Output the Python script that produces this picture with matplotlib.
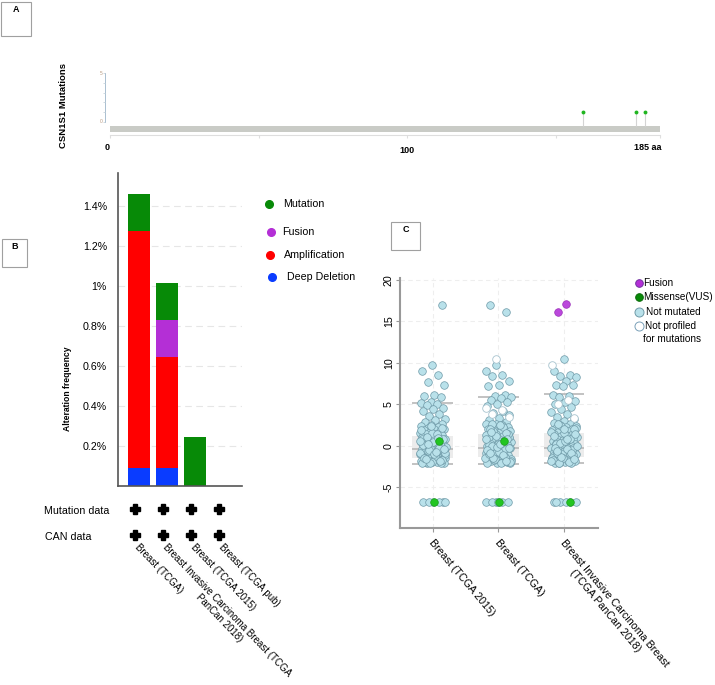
import matplotlib
matplotlib.use("Agg")
import matplotlib.pyplot as plt
import matplotlib.patches as patches
from matplotlib.lines import Line2D
import numpy as np

plt.rcParams['font.family'] = ['Liberation Sans', 'DejaVu Sans']

W, H = 715, 685

# ---- panel A: lollipop of CSN1S1 mutations
protein_length = 185
mutation_positions = [159, 177, 180]
mutation_counts = [1, 1, 1]
ruler_ticks = [0, 50, 100, 150, 185]

# ---- panel B: alteration frequency (%) per study
studies_b = ["Breast (TCGA)",
             "Breast Invasive Carcinoma Breast (TCGA\nPanCan 2018)",
             "Breast (TCGA 2015)",
             "Breast (TCGA pub)"]
deep_deletion = [0.09, 0.09, 0.0, 0.0]
amplification = [1.185, 0.555, 0.0, 0.0]
fusion = [0.0, 0.185, 0.0, 0.0]
mutation = [0.185, 0.185, 0.245, 0.0]
freq_ticks = [0.2, 0.4, 0.6, 0.8, 1.0, 1.2, 1.4]

# ---- panel C: expression per study
studies_c = ["Breast (TCGA 2015)", "Breast (TCGA)",
             "Breast Invasive Carcinoma Breast\n(TCGA PanCan 2018)"]
not_mutated = [
    [17.0, 9.8, 9.0, 8.6, 7.7, 7.4, 6.1, 6.0, 5.9, 5.3, 5.2, 5.1, 4.9, 4.6,
     4.4, 4.2, 3.9, 3.6, 3.3, 3.1, 2.9, 2.7, 2.5, 2.4, 2.3, 2.2, 2.1, 2.0,
     1.9, 1.8, 1.7, 1.6, 1.5, 1.4, 1.3, 1.2, 1.1, 1.0, 0.9, 0.85, 0.8, 0.7,
     0.6, 0.55, 0.5, 0.4, 0.3, 0.25, 0.2, 0.1, 0.0, -0.05, -0.1, -0.2, -0.25,
     -0.3, -0.35, -0.4, -0.5, -0.55, -0.6, -0.7, -0.75, -0.8, -0.9, -1.0,
     -1.05, -1.1, -1.2, -1.25, -1.3, -1.4, -1.45, -1.5, -1.6, -1.65, -1.7,
     -1.8, -1.85, -1.9, -2.0, -2.1, 1.2, 0.7, 0.2, -0.3, -0.8, -1.3, -1.8,
     2.2, 1.6, 0.9, 0.4, -0.6, -1.1, -1.6, -1.9, -2.0,
     2.4, 1.9, 1.5, 1.1, 0.8, 0.5, 0.1, -0.2, -0.5, -0.9, -1.2, -1.5, -1.7,
     -1.9, -2.05, 1.0, 0.3, -0.4, -1.0, -1.4, -1.75, -2.0, 0.6, -0.7, -1.55,
     -6.7, -6.7, -6.7, -6.7, -6.7, -6.7],
    [17.0, 16.1, 9.8, 9.0, 8.5, 8.4, 7.8, 7.4, 7.2, 6.1, 6.0, 5.9, 5.8, 5.5,
     5.3, 5.0, 4.8, 4.2, 4.0, 3.7, 3.4, 3.1, 2.9, 2.7, 2.6, 2.5, 2.4, 2.3,
     2.2, 2.1, 2.0, 1.9, 1.8, 1.7, 1.6, 1.5, 1.4, 1.3, 1.2, 1.1, 1.0, 0.9,
     0.8, 0.7, 0.6, 0.5, 0.4, 0.3, 0.2, 0.1, 0.0, -0.1, -0.2, -0.3, -0.4,
     -0.5, -0.6, -0.7, -0.8, -0.9, -1.0, -1.1, -1.2, -1.3, -1.4, -1.5, -1.6,
     -1.7, -1.8, -1.9, -2.0, -2.1, 2.3, 1.8, 1.1, 0.6, 0.1, -0.4, -0.9, -1.4,
     -1.9, 2.6, 1.4, 0.3, -0.6, -1.2, -1.7, -2.0,
     2.5, 2.0, 1.6, 1.2, 0.9, 0.4, 0.0, -0.3, -0.7, -1.0, -1.3, -1.6, -1.8,
     -2.05, 1.7, 0.8, -0.1, -0.5, -1.1, -1.5, -1.95, 0.2, -0.8, -1.75,
     -6.7, -6.7, -6.7, -6.7, -6.7, -6.7],
    [10.5, 9.0, 8.6, 8.4, 8.3, 7.8, 7.4, 7.3, 7.2, 6.1, 6.0, 5.9, 5.4, 5.3,
     5.0, 4.7, 4.4, 4.1, 3.8, 3.5, 3.2, 3.0, 2.8, 2.6, 2.5, 2.4, 2.3, 2.2,
     2.1, 2.0, 1.9, 1.8, 1.7, 1.6, 1.5, 1.4, 1.3, 1.2, 1.1, 1.0, 0.9, 0.8,
     0.7, 0.6, 0.5, 0.4, 0.3, 0.2, 0.1, 0.0, -0.1, -0.2, -0.3, -0.4, -0.5,
     -0.6, -0.7, -0.8, -0.9, -1.0, -1.1, -1.2, -1.3, -1.4, -1.5, -1.6, -1.7,
     -1.8, -1.9, -2.0, -2.1, 2.4, 1.7, 1.0, 0.5, -0.2, -0.7, -1.2, -1.6, -2.0,
     2.2, 1.3, 0.2, -0.5, -1.0, -1.5, -1.8,
     2.6, 2.1, 1.6, 1.2, 0.8, 0.4, 0.0, -0.4, -0.8, -1.1, -1.4, -1.7, -1.9,
     -2.05, 1.5, 0.6, -0.3, -0.9, -1.3, -1.85, 0.9, -0.6, -1.55, 2.0,
     -6.7, -6.7, -6.7, -6.7, -6.7, -6.7],
]
not_profiled = [[], [10.5, 4.6, 4.3, 3.9, 3.5], [9.8, 5.6, 5.1, 3.4]]
missense = [[0.65, -6.7], [0.65, -6.7], [-6.7]]
fusion_c = [[], [], [17.1, 16.1]]
q1 = [-1.45, -1.35, -1.35]
median = [-0.35, -0.3, -0.3]
q3 = [1.2, 1.5, 1.6]
whisker_lo = [-2.15, -2.15, -2.1]
whisker_hi = [5.2, 5.9, 6.25]

GREEN = '#078a07'
PURPLE = '#b42fd6'
RED = '#ff0000'
BLUE = '#0a3cff'
FS = 7.7

fig = plt.figure(figsize=(W / 100, H / 100), dpi=100)


def fig_axes(l, t, r, b):
    return fig.add_axes([l / W, 1 - b / H, (r - l) / W, (b - t) / H])


def fx(px):
    return px / W


def fy(py):
    return 1 - py / H


def panel_box(l, t, r, b, label):
    fig.add_artist(patches.Rectangle((fx(l), fy(b)), (r - l) / W, (b - t) / H,
                                     transform=fig.transFigure, fill=False,
                                     ec='#a0a0a0', lw=0.8))
    fig.text(fx((l + r) / 2), fy(t + 7), label, ha='center', va='center',
             fontsize=6.5, fontweight='bold')


def jitter(n, start=0, width=0.2):
    # deterministic spread of points across the strip
    return ((np.arange(start, start + n) * 0.618034) % 1 - 0.5) * 2 * width


# ================= panel A =================
panel_box(1, 2, 31, 36, "A")
axA = fig_axes(110, 60, 660, 160)
axA.set_xlim(0, protein_length)
axA.set_ylim(-3.88, 6.33)
axA.axis('off')
axA.add_patch(patches.Rectangle((0, -1.02), protein_length, 0.61,
                                fc='#c9cbc6', ec='none'))
axA.vlines(mutation_positions, -0.41, mutation_counts, color='#d4d4d4', lw=0.8)
axA.plot(mutation_positions, mutation_counts, 'o', color='#1fb51f', ms=2.8,
         mec='none')
axA.plot([0, protein_length], [-1.33, -1.33], color='#dedede', lw=0.8,
         clip_on=False)
axA.vlines(ruler_ticks, -1.33, -1.6, color='#dedede', lw=0.8, clip_on=False)
axA.text(-1, -2.65, "0", ha='center', va='center', fontsize=6.5,
         fontweight='bold')
axA.text(100, -2.95, "100", ha='center', va='center', fontsize=6.5,
         fontweight='bold')
axA.text(protein_length + 0.5, -2.65, "185 aa", ha='right', va='center',
         fontsize=6.5, fontweight='bold')
axA.plot([-1.68, -1.68], [0, 5], color='#a9bfd0', lw=0.7, clip_on=False)
axA.hlines(range(6), -2.4, -1.68, color='#c8d4dc', lw=0.6, clip_on=False)
axA.text(-3.0, 5, "5", ha='center', va='center', fontsize=3.5, color='#b89a80')
axA.text(-3.0, 0, "0", ha='center', va='center', fontsize=3.5, color='#b89a80')
fig.text(fx(64), fy(105), "CSN1S1 Mutations", rotation=90, ha='center',
         va='center', fontsize=6.8, fontweight='bold')

# ================= panel B =================
panel_box(2, 239, 27, 267, "B")
axB = fig_axes(118, 173, 242, 486)
xb = np.arange(len(studies_b))
bottom = np.zeros(len(studies_b))
for vals, color in [(deep_deletion, BLUE), (amplification, RED),
                    (fusion, PURPLE), (mutation, GREEN)]:
    axB.bar(xb, vals, 0.786, bottom=bottom, color=color, zorder=2)
    bottom += np.array(vals)
axB.set_xlim(-0.75, 3.68)
axB.set_ylim(0, 1.565)
axB.set_yticks(freq_ticks)
axB.set_yticklabels([f"{v:g}%" for v in freq_ticks], fontsize=FS)
axB.set_xticks([])
axB.tick_params(axis='y', length=0, pad=8)
axB.grid(axis='y', color='#e6e6e6', lw=0.8, linestyle=(0, (6, 4)), zorder=0)
axB.set_axisbelow(True)
for s in ['top', 'right']:
    axB.spines[s].set_visible(False)
for s in ['left', 'bottom']:
    axB.spines[s].set_color('#555555')
    axB.spines[s].set_linewidth(1.2)
fig.text(fx(67), fy(389), "Alteration frequency", rotation=90, ha='center',
         va='center', fontsize=6.2, fontweight='bold')

# legend B
for py, px_dot, px_txt, color, label in [
        (204, 269, 283, GREEN, "Mutation"),
        (232, 271, 282, PURPLE, "Fusion"),
        (255, 270, 284, RED, "Amplification"),
        (277, 272, 287, BLUE, "Deep Deletion")]:
    fig.add_artist(Line2D([fx(px_dot)], [fy(py)], marker='o', ms=5.5,
                          color=color, transform=fig.transFigure))
    fig.text(fx(px_txt), fy(py), label, ha='left', va='center', fontsize=FS)

# data availability rows
tr = axB.get_xaxis_transform()
for yrow in [-0.073, -0.157]:
    axB.plot(xb - 0.14, [yrow] * len(xb), 'P', color='black', ms=7.5,
             mec='black', transform=tr, clip_on=False)
fig.text(fx(44), fy(511), "Mutation data", ha='left', va='center', fontsize=FS)
fig.text(fx(45), fy(537), "CAN data", ha='left', va='center', fontsize=FS)
for i, name in enumerate(studies_b):
    axB.text(i + 0.05, -0.178, name, transform=tr, rotation=-46,
             rotation_mode='anchor', ha='left', va='top', fontsize=7.0,
             multialignment='center')

# ================= panel C =================
panel_box(391, 222, 420, 250, "C")
axC = fig_axes(400, 278, 598, 528)
axC.set_xlim(-0.5, 2.52)
axC.set_ylim(-9.88, 20.24)
for i in range(len(studies_c)):
    axC.add_patch(patches.Rectangle((i - 0.31, q1[i]), 0.62, q3[i] - q1[i],
                                    fc='#ececec', ec='none', zorder=1))
    axC.hlines([median[i], whisker_lo[i], whisker_hi[i]], i - 0.31, i + 0.31,
               color='#b8b8b8', lw=1.2, zorder=1.5)
    vals = np.array(not_mutated[i])
    axC.scatter(i + jitter(len(vals), 3 + i * 7), vals, s=30, fc='#b9e1ea',
                ec='#6f9aa8', lw=0.5, zorder=3)
    if not_profiled[i]:
        vals = np.array(not_profiled[i])
        axC.scatter(i + jitter(len(vals), 11 + i), vals, s=30, fc='white',
                    ec='#a8c4cf', lw=0.6, zorder=3)
    if missense[i]:
        vals = np.array(missense[i])
        axC.scatter(i + jitter(len(vals), 8, 0.1), vals, s=30,
                    fc='#22c522', ec='#1b9a1b', lw=0.5, zorder=4)
    if fusion_c[i]:
        vals = np.array(fusion_c[i])
        axC.scatter(i + jitter(len(vals), 1, 0.16), vals, s=30,
                    fc='#bb48dc', ec='#9a30b8', lw=0.5, zorder=4)
axC.set_yticks([-5, 0, 5, 10, 15, 20])
axC.set_yticklabels(['-5', '0', '5', '10', '15', '20'], rotation=90,
                    va='center', fontsize=FS)
axC.set_xticks(range(len(studies_c)))
axC.set_xticklabels([])
axC.tick_params(axis='both', length=3, color='#999999', width=0.8, pad=1.5)
axC.grid(color='#eeeeee', lw=0.8, linestyle=(0, (4, 3)), zorder=0)
axC.set_axisbelow(True)
for s in ['top', 'right']:
    axC.spines[s].set_visible(False)
for s in ['left', 'bottom']:
    axC.spines[s].set_color('#999999')
    axC.spines[s].set_linewidth(1.5)
trC = axC.get_xaxis_transform()
for i, name in enumerate(studies_c):
    axC.text(i + 0.03, -0.04, name, transform=trC, rotation=-50,
             rotation_mode='anchor', ha='left', va='top', fontsize=FS,
             multialignment='center')

# legend C
for py, color, ec, ms in [(283, PURPLE, '#7030a0', 5.5),
                          (297, GREEN, '#0a6a0a', 5.5),
                          (312, '#b9e1ea', '#6f9aa8', 6.5),
                          (326, 'white', '#7aa0b8', 6.5)]:
    fig.add_artist(Line2D([fx(639)], [fy(py)], marker='o', ms=ms, color=color,
                          mec=ec, mew=0.7, transform=fig.transFigure))
FSL = 7.2
fig.text(fx(643), fy(283), "Fusion", ha='left', va='center', fontsize=FSL)
fig.text(fx(643), fy(297), "Missense(VUS)", ha='left', va='center',
         fontsize=FSL)
fig.text(fx(646), fy(312), "Not mutated", ha='left', va='center', fontsize=FSL)
fig.text(fx(645), fy(326), "Not profiled", ha='left', va='center',
         fontsize=FSL)
fig.text(fx(643), fy(339), "for mutations", ha='left', va='center',
         fontsize=FSL)

fig.savefig("out.png", dpi=100, facecolor='white')
